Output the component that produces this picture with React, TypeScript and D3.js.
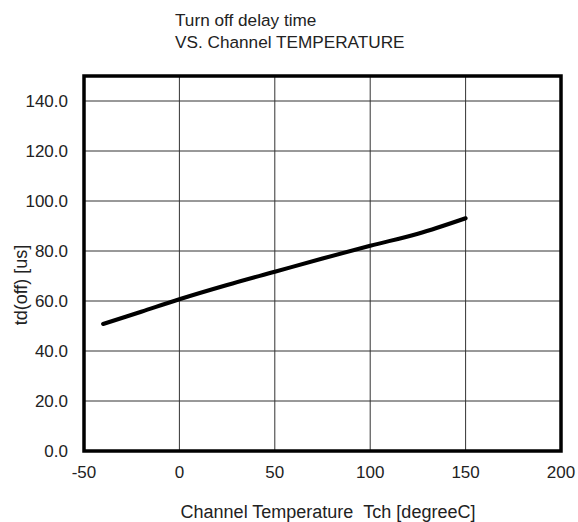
import React from "react";
import * as d3 from "d3";

const temps = [-40, -20, 0, 25, 50, 75, 100, 125, 150];
const delays = [50.8, 55.7, 60.7, 66.4, 71.7, 77.0, 82.1, 86.9, 93.1];
const xTicks = [-50, 0, 50, 100, 150, 200];
const yTicks = [0, 20, 40, 60, 80, 100, 120, 140];
const titleLines = ["Turn off delay time", "VS. Channel TEMPERATURE"];
const xLabel = "Channel Temperature\u00a0\u00a0Tch [degreeC]";
const yLabel = "td(off) [us]";

export default function App() {
  const W = 578, H = 522;
  const left = 84, right = 561, top = 76, bottom = 451;
  const x = d3.scaleLinear().domain([-50, 200]).range([left, right]);
  const y = d3.scaleLinear().domain([0, 150]).range([bottom, top]);
  const line = d3.line<number>()
    .x((_, i) => x(temps[i]))
    .y((d) => y(d))
    .curve(d3.curveCatmullRom.alpha(0.5));
  const font = "'Liberation Sans', Arial, sans-serif";
  return (
    <svg width={W} height={H} style={{ position: "absolute", left: 0, top: 0, background: "#fff" }} fontFamily={font}>
      <rect x={0} y={0} width={W} height={H} fill="#fff" />
      {titleLines.map((t, i) => (
        <text key={t} x={175} y={26 + i * 21.5} fontSize={17.2} fill="#222">{t}</text>
      ))}
      {yTicks.map((v) => (
        <line key={"gy" + v} x1={left} x2={right} y1={y(v)} y2={y(v)} stroke="#333" strokeWidth={1} />
      ))}
      {xTicks.map((v) => (
        <line key={"gx" + v} x1={x(v)} x2={x(v)} y1={top} y2={bottom} stroke="#333" strokeWidth={1} />
      ))}
      <rect x={left} y={top} width={right - left} height={bottom - top} fill="none" stroke="#000" strokeWidth={3.5} />
      {yTicks.map((v) => (
        <text key={"ty" + v} x={68} y={y(v)} dy="0.35em" textAnchor="end" fontSize={17} fill="#222">{v.toFixed(1)}</text>
      ))}
      {xTicks.map((v) => (
        <text key={"tx" + v} x={x(v)} y={472} dy="0.35em" textAnchor="middle" fontSize={17} fill="#222">{v}</text>
      ))}
      <path d={line(delays) || ""} fill="none" stroke="#000" strokeWidth={4} strokeLinecap="round" />
      <text x={328} y={518} textAnchor="middle" fontSize={18} fill="#222">{xLabel}</text>
      <text transform={`translate(27,285) rotate(-90)`} textAnchor="middle" fontSize={18} fill="#222">{yLabel}</text>
    </svg>
  );
}
